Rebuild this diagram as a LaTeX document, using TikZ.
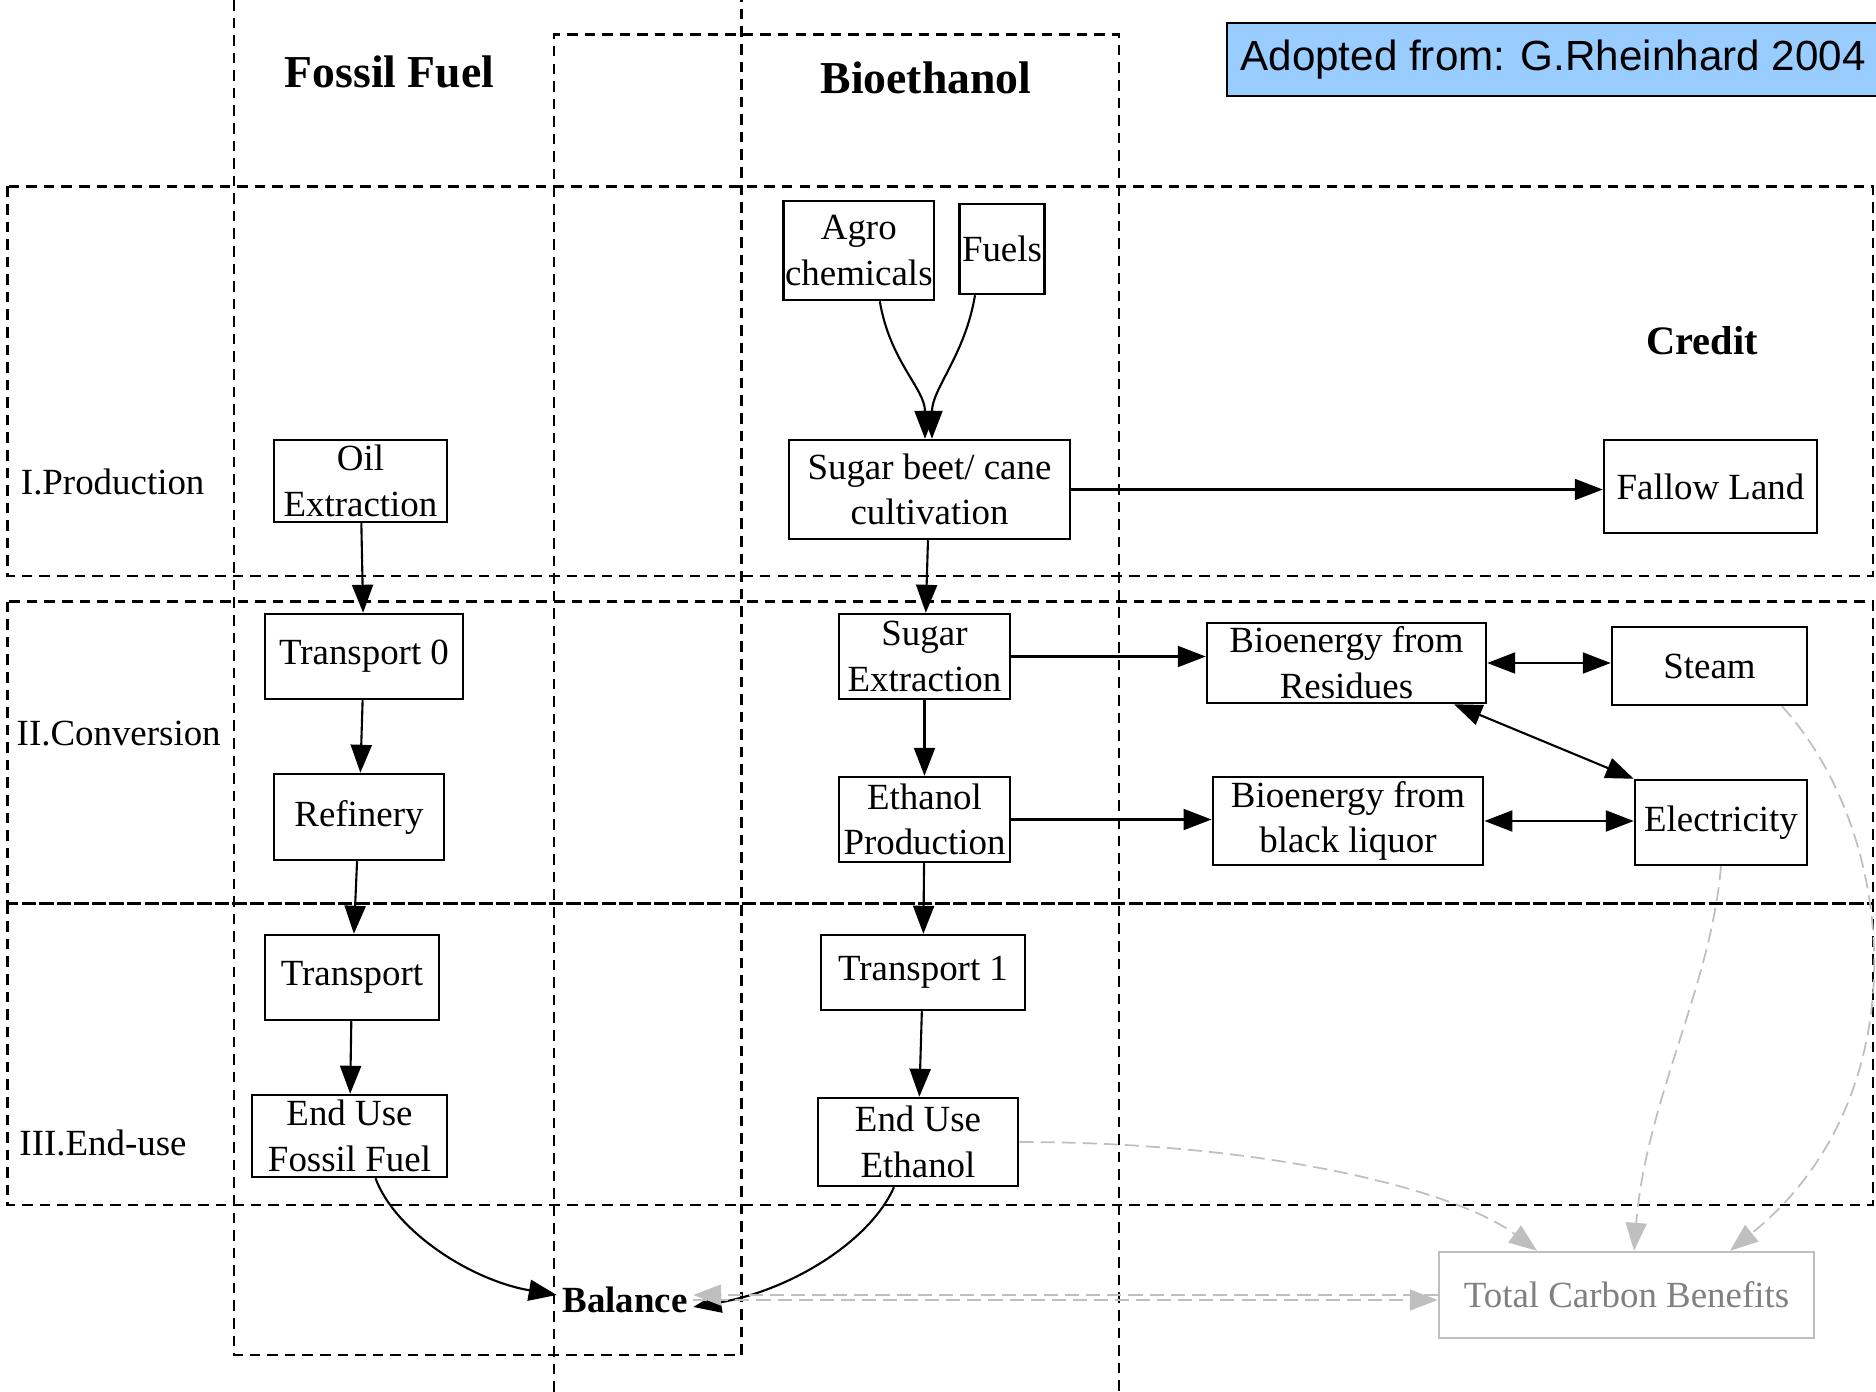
\documentclass[tikz,border=0pt]{standalone}
\usepackage{fontspec}
\setmainfont{Liberation Serif}
\newfontfamily\notefont{Liberation Sans}
\usetikzlibrary{arrows.meta}

\definecolor{notebg}{RGB}{153,204,255}
\newcommand{\boxfnt}{\fontsize{10.5}{13}\selectfont}

\begin{document}
\begin{tikzpicture}[x = 0.1mm, y = -0.1mm,
        box/.style = {draw, line width = 0.7pt, align = center, inner sep = 0pt, font = \boxfnt},
        gridline/.style = {line width = 0.75pt, dash pattern = on 3pt off 2pt},
        arr/.style = {line width = 0.6pt, -{Triangle[length = 2.8mm, width = 2.1mm]}},
        darr/.style = {line width = 0.6pt, {Triangle[length = 2.8mm, width = 2.1mm]}-{Triangle[length = 2.8mm, width = 2.1mm]}},
        garr/.style = {gray!50, line width = 0.5pt, dash pattern = on 4pt off 2pt, -{Triangle[length = 2.8mm, width = 2.1mm]}},
        coltitle/.style = {font = \fontsize{13}{15}\selectfont\bfseries},
        rowlabel/.style = {font = \boxfnt}]
        \useasboundingbox (0, 0) rectangle (1876, 1392);
        % columns and rows
        \draw [gridline] (234, 0) -- (234, 1355) -- (741.6, 1355) -- (741.6, 0);
        \draw [gridline] (554, 1392) -- (554, 34.4) -- (1119, 34.4) -- (1119, 1392);
        \draw [gridline] (7.3, 186.4) rectangle (1873, 576);
        \draw [gridline] (7.3, 601.7) rectangle (1873, 903.7);
        \draw [gridline] (7.3, 903.7) rectangle (1873, 1205);
        \node [draw, line width = 0.6pt, fill = notebg, anchor = west, minimum width = 65.2mm, minimum height = 7.3mm, inner sep = 0pt, font = \notefont\fontsize{12}{14}\selectfont] (note) at (1226, 59.5) {Adopted from: G.Rheinhard 2004};
        \node [coltitle] (fossil) at (389.5, 71.8) {Fossil Fuel};
        \node [coltitle] (bioeth) at (926, 77.8) {Bioethanol};
        \node [font = \fontsize{11.5}{14}\selectfont\bfseries] (credit) at (1702, 341) {Credit};
        \node [rowlabel] (prod) at (112.7, 482) {I.Production};
        \node [rowlabel] (conv) at (118.7, 733.8) {II.Conversion};
        \node [rowlabel] (enduse) at (103, 1143) {III.End-use};
        % fossil chain
        \node [box, minimum width = 17.3mm, minimum height = 8.2mm] (oil) at (360.5, 481) {Oil\\Extraction};
        \node [box, minimum width = 19.8mm, minimum height = 8.5mm] (trans0) at (364, 656.5) {Transport 0};
        \node [box, minimum width = 17.05mm, minimum height = 8.6mm] (refinery) at (359, 817) {Refinery};
        \node [box, minimum width = 17.4mm, minimum height = 8.5mm] (trans) at (352, 977.5) {Transport};
        \node [box, minimum width = 19.5mm, minimum height = 8.2mm] (usefossil) at (349.5, 1136) {End Use\\Fossil Fuel};
        % ethanol chain
        \node [box, minimum width = 15.05mm, minimum height = 9.9mm] (agro) at (858.8, 250.5) {Agro\\chemicals};
        \node [box, minimum width = 8.47mm, minimum height = 9mm] (fuels) at (1002, 249) {Fuels};
        \node [box, minimum width = 28.1mm, minimum height = 9.9mm] (beet) at (929.5, 489.5) {Sugar beet/ cane\\cultivation};
        \node [box, minimum width = 17.1mm, minimum height = 8.5mm] (sugarext) at (924.5, 656.5) {Sugar\\Extraction};
        \node [box, minimum width = 17.1mm, minimum height = 8.5mm] (ethprod) at (924.5, 819.5) {Ethanol\\Production};
        \node [box, minimum width = 20.4mm, minimum height = 7.5mm] (trans1) at (923, 972.5) {Transport 1};
        \node [box, minimum width = 20.05mm, minimum height = 8.8mm] (useeth) at (918, 1142) {End Use\\Ethanol};
        % credits
        \node [box, minimum width = 21.3mm, minimum height = 9.3mm] (fallow) at (1710.5, 486.5) {Fallow Land};
        \node [box, minimum width = 27.9mm, minimum height = 8mm] (residues) at (1346.5, 663) {Bioenergy from\\Residues};
        \node [box, minimum width = 19.5mm, minimum height = 7.8mm] (steam) at (1709.5, 666) {Steam};
        \node [box, minimum width = 27.05mm, minimum height = 8.8mm] (liquor) at (1348, 821) {Bioenergy from\\black liquor};
        \node [box, minimum width = 17.2mm, minimum height = 8.5mm] (elec) at (1721, 822.5) {Electricity};
        \node [box, draw = gray!50, text = gray, minimum width = 37.5mm, minimum height = 8.6mm] (benefits) at (1626.5, 1295) {Total Carbon Benefits};
        \node [font = \boxfnt\bfseries, inner sep = 0.5mm] (balance) at (625, 1300) {Balance};
        % black flows
        \draw [arr] ([xshift = 2.1mm]agro.south) .. controls +(10, 60) and +(0, -50) .. ([xshift = -0.45mm]beet.north);
        \draw [arr] ([xshift = -2.7mm]fuels.south) .. controls +(-10, 60) and +(0, -50) .. ([xshift = 0.25mm]beet.north);
        \draw [arr] (beet.east) -- (beet.east -| fallow.west);
        \draw [arr] (beet) -- (sugarext);
        \draw [arr] (oil) -- (trans0);
        \draw [arr] (trans0) -- (refinery);
        \draw [arr] (refinery) -- (trans);
        \draw [arr] (trans) -- (usefossil);
        \draw [arr] (sugarext) -- (ethprod);
        \draw [arr] (ethprod) -- (trans1);
        \draw [arr] (trans1) -- (useeth);
        \draw [arr] (sugarext.east) -- (sugarext.east -| residues.west);
        \draw [arr] (ethprod.east) -- (ethprod.east -| liquor.west);
        \draw [darr] (residues.east) -- (residues.east -| steam.west);
        \draw [darr] (liquor.east) -- (liquor.east -| elec.west);
        \draw [darr] ([xshift = 10.75mm]residues.south) -- (elec.north west);
        \draw [arr] ([xshift = 2.6mm]usefossil.south) .. controls +(19, 52) and +(-87, -15) .. ([yshift = 0.5mm]balance.west);
        \draw [arr] ([xshift = -2.4mm]useeth.south) .. controls +(-24, 54) and +(98, -17) .. ([yshift = -0.7mm]balance.east);
        % grey flows
        \draw [garr] (useeth.east) .. controls +(250, 0) and +(-80, -60) .. ([xshift = -8.95mm]benefits.north);
        \draw [garr] (elec.south) .. controls +(-10, 120) and +(12, -150) .. ([xshift = 0.75mm]benefits.north);
        \draw [garr] ([xshift = 7.25mm]steam.south) .. controls +(118, 130) and +(190, -153) .. ([xshift = 10.35mm]benefits.north);
        \draw [garr] (balance.east) -- (balance.east -| benefits.west);
        \draw [garr] (benefits.west) -- (benefits.west -| balance.east);
    \end{tikzpicture}
\end{document}
